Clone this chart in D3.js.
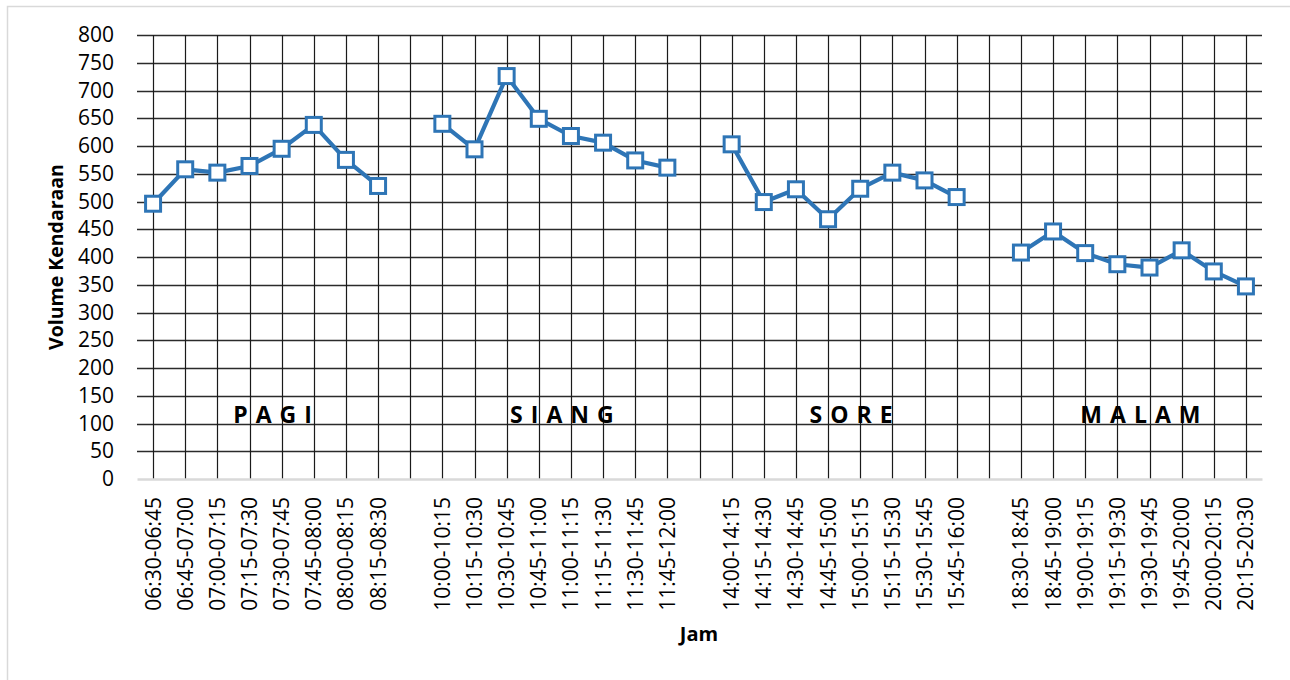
<!DOCTYPE html>
<html>
<head>
<meta charset="utf-8">
<script src="https://cdn.jsdelivr.net/npm/d3@7"></script>
<style>
  body { margin: 0; background: #fff; }
  svg { display: block; font-family: "Open Sans", "Noto Sans", sans-serif; }
</style>
</head>
<body>
<svg id="chart" width="1290" height="680"></svg>
<script>
// Time intervals per period; empty strings are spacer slots between periods
const categories = [
  "06:30-06:45","06:45-07:00","07:00-07:15","07:15-07:30","07:30-07:45","07:45-08:00","08:00-08:15","08:15-08:30",
  "",
  "10:00-10:15","10:15-10:30","10:30-10:45","10:45-11:00","11:00-11:15","11:15-11:30","11:30-11:45","11:45-12:00",
  "",
  "14:00-14:15","14:15-14:30","14:30-14:45","14:45-15:00","15:00-15:15","15:15-15:30","15:30-15:45","15:45-16:00",
  "",
  "18:30-18:45","18:45-19:00","19:00-19:15","19:15-19:30","19:30-19:45","19:45-20:00","20:00-20:15","20:15-20:30"
];
// Vehicle volume per interval (null = spacer slot)
const volumes = [
  496, 558, 552, 564, 595, 638, 575, 528,
  null,
  640, 594, 726, 649, 618, 606, 574, 561,
  null,
  603, 499, 522, 468, 523, 552, 538, 508,
  null,
  408, 446, 407, 387, 381, 412, 374, 347
];
const yTicks = [0, 50, 100, 150, 200, 250, 300, 350, 400, 450, 500, 550, 600, 650, 700, 750, 800];
const periods = ["PAGI", "SIANG", "SORE", "MALAM"];
// Slot index range each period label is centred over
const periodSpan = [[0, 7], [9, 16], [18, 25], [27, 34]];

const svg = d3.select("#chart");
const margin = { left: 137, right: 28, top: 35, bottom: 201 };
const W = 1290, H = 680;
const x0 = margin.left, x1 = W - margin.right;
const y0 = H - margin.bottom, y1 = margin.top;

// Outer chart frame
svg.append("rect")
  .attr("x", 7.5).attr("y", 6.5).attr("width", 1300).attr("height", 700)
  .attr("fill", "none").attr("stroke", "#d9d9d9").attr("stroke-width", 1.5);

const idx = d3.range(categories.length);
const x = d3.scaleBand().domain(idx).range([x0, x1]).padding(0);
const cx = i => x(i) + x.bandwidth() / 2;
const y = d3.scaleLinear().domain([0, 800]).range([y0, y1]);

// Horizontal gridlines
svg.append("g")
  .selectAll("line").data(yTicks.filter(v => v > 0)).join("line")
  .attr("x1", x0).attr("x2", x1)
  .attr("y1", d => Math.round(y(d)) + 0.5).attr("y2", d => Math.round(y(d)) + 0.5)
  .attr("stroke", "#2b2b2b").attr("stroke-width", 1.6);

// Vertical gridlines at each slot centre
svg.append("g")
  .selectAll("line").data(idx).join("line")
  .attr("x1", d => Math.round(cx(d)) + 0.5).attr("x2", d => Math.round(cx(d)) + 0.5)
  .attr("y1", y1).attr("y2", y0)
  .attr("stroke", "#1a1a1a").attr("stroke-width", 1.2);

// Category axis
const xAxis = svg.append("g")
  .attr("transform", `translate(0,${y0})`)
  .call(d3.axisBottom(x).tickSize(0).tickFormat(i => categories[i]));
xAxis.select(".domain").attr("stroke", "#d9d9d9").attr("stroke-width", 2.5);
xAxis.selectAll("text")
  .attr("font-size", 21).attr("fill", "#000")
  .attr("font-family", "'Open Sans', sans-serif")
  .attr("transform", "rotate(-90)")
  .attr("text-anchor", "end")
  .attr("x", -18).attr("y", 0).attr("dy", "0.36em");

// Value axis
const yAxis = svg.append("g")
  .attr("transform", `translate(${x0 - 23},0)`)
  .call(d3.axisLeft(y).tickValues(yTicks).tickSize(0));
yAxis.select(".domain").remove();
yAxis.selectAll("text")
  .attr("font-size", 21).attr("fill", "#000")
  .attr("font-family", "'Open Sans', sans-serif")
  .attr("x", 0);

// Axis titles
svg.append("text")
  .attr("transform", `translate(63,${(y0 + y1) / 2}) rotate(-90)`)
  .attr("text-anchor", "middle")
  .attr("font-size", 19.5).attr("font-weight", "bold")
  .text("Volume Kendaraan");
svg.append("text")
  .attr("x", 699).attr("y", 641)
  .attr("text-anchor", "middle")
  .attr("font-size", 20).attr("font-weight", "bold")
  .text("Jam");

// Period labels
const ls = 8;
svg.append("g")
  .selectAll("text").data(periods).join("text")
  .attr("x", (d, i) => (cx(periodSpan[i][0]) + cx(periodSpan[i][1])) / 2 + 7 + ls / 2)
  .attr("y", y(100) - 1)
  .attr("text-anchor", "middle")
  .attr("font-size", 23).attr("font-weight", "bold")
  .attr("letter-spacing", ls + "px")
  .text(d => d);

// Volume line, broken at spacer slots
const line = d3.line()
  .defined(i => volumes[i] !== null)
  .x(i => cx(i))
  .y(i => y(volumes[i]));
svg.append("path")
  .attr("d", line(idx))
  .attr("fill", "none").attr("stroke", "#2E75B6")
  .attr("stroke-width", 4.2).attr("stroke-linejoin", "round");

// Square markers
const ms = 15;
svg.append("g")
  .selectAll("rect").data(idx.filter(i => volumes[i] !== null)).join("rect")
  .attr("x", i => cx(i) - ms / 2).attr("y", i => y(volumes[i]) - ms / 2)
  .attr("width", ms).attr("height", ms)
  .attr("fill", "#fff").attr("stroke", "#2E75B6").attr("stroke-width", 3);
</script>
</body>
</html>
